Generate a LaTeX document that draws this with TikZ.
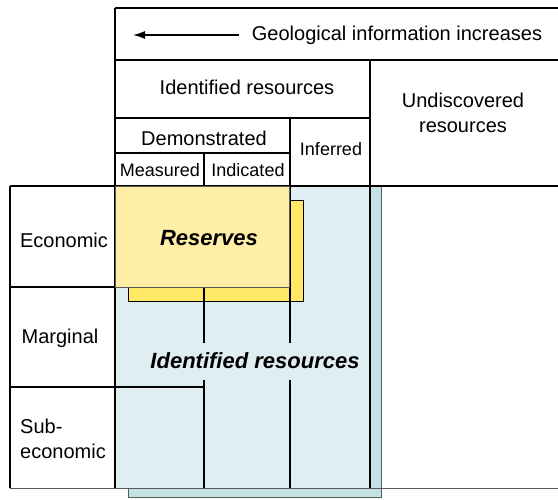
\documentclass[tikz,border=0pt]{standalone}
\usepackage{fontspec}
\setmainfont{Liberation Sans}
\usetikzlibrary{positioning,arrows,arrows.meta}

\definecolor{idblue}{HTML}{DFEEF2}
\definecolor{idteal}{HTML}{C4E2E4}
\definecolor{resyel}{HTML}{FFEEA6}
\definecolor{resdark}{HTML}{FFE866}

\begin{document}
\begin{tikzpicture}[
  x=1pt,y=-1pt,
  txt/.style={font=\fontsize{20}{25}\selectfont,inner sep=0pt,align=center},
  sm/.style={font=\fontsize{18}{22}\selectfont,inner sep=0pt},
  bigit/.style={font=\fontsize{22}{26}\selectfont\bfseries\itshape,inner sep=0pt},
  rule/.style={line width=1.3pt},
  thin/.style={draw=black!65,line width=0.7pt}
]
\useasboundingbox (0,0) rectangle (558,499);
% blue block with its shadow
\draw[thin,fill=idteal] (128,186) rectangle (381,497);
\draw[thin,fill=idblue] (115,186) rectangle (370,488);
\draw[thin] (10,488) -- (558,488);
% reserves shadow
\draw[line width=0.9pt,fill=resdark] (128,200) rectangle (303,301);
% grid
\draw[rule] (115,8) -- (558,8);
\draw[rule] (115,60) -- (558,60);
\draw[rule] (115,118) -- (370,118);
\draw[rule] (115,153) -- (290,153);
\draw[rule] (115,8) -- (115,488);
\draw[rule] (10,186) -- (10,488);
\draw[rule] (204,153) -- (204,488);
\draw[rule] (290,118) -- (290,488);
\draw[rule] (370,60) -- (370,488);
\draw[rule] (10,287) -- (115,287);
\draw[rule] (10,387) -- (204,387);
\draw[line width=1.8pt] (10,186) -- (558,186);
% reserves
\draw[thin,fill=resyel] (115,186) rectangle (289,287);
% labels
\node[txt] (geo) at (397,35) {Geological information increases};
\coordinate (tip) at (133,35);
\draw[-{Latex[length=12pt,width=8pt]},line width=1.5pt,shorten <=13pt] (geo.west) -- (tip);
\node[txt] (idtop) at (247,87) {Identified resources};
\node[txt] (undisc) at (463,113) {Undiscovered\\resources};
\node[txt] (demo) at (204,138) {Demonstrated};
\node[sm] (infer) at (331,149) {Inferred};
\node[sm] (meas) at (160,170) {Measured};
\node[sm] (indic) at (248,170) {Indicated};
\node[txt] (econ) at (64,240) {Economic};
\node[txt] (marg) at (60,338) {Marginal};
\node[txt,align=left,anchor=west] (subec) at (20,439) {Sub-\\economic};
\node[bigit] (res) at (209,238) {Reserves};
\node[bigit,fill=idblue,inner xsep=3pt,minimum height=37pt] (idres) at (255,361) {Identified resources};
\end{tikzpicture}
\end{document}
